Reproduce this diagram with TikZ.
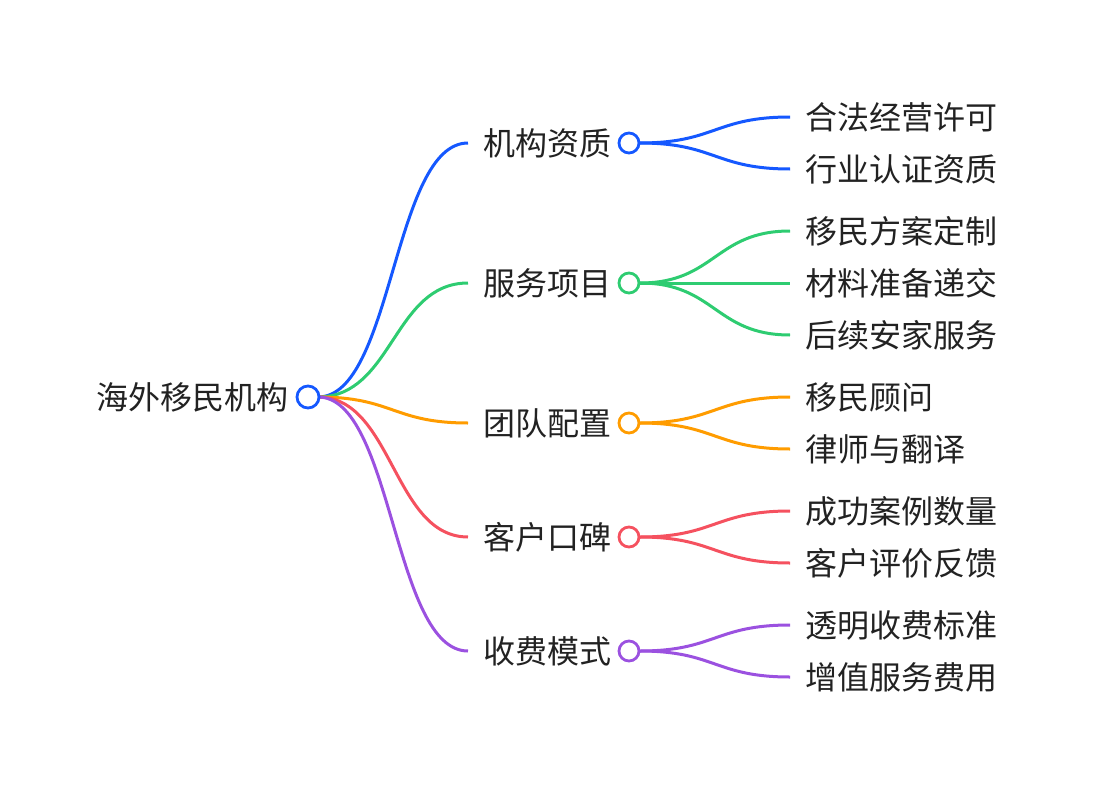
\documentclass[tikz,border=0pt]{standalone}
\usepackage{fontspec}
\newfontfamily\cjk{Noto Sans CJK SC}
\definecolor{cblue}{HTML}{1558FF}
\definecolor{cgreen}{HTML}{2ECC71}
\definecolor{corange}{HTML}{FF9C00}
\definecolor{cred}{HTML}{F5515F}
\definecolor{cpurple}{HTML}{9B51E0}
\definecolor{ctext}{HTML}{222222}
\tikzset{
  dot/.style={circle,draw=#1,line width=2.8pt,fill=white,minimum size=20pt,inner sep=0pt},
  lbl/.style={font=\cjk\fontsize{32}{34}\selectfont,text=ctext,inner sep=0pt},
  edge/.style={draw=#1,line width=3pt},
}
\begin{document}
\begin{tikzpicture}[x=1pt,y=-1pt]
\useasboundingbox (0,0) rectangle (1098,792);
% root
\node[lbl,anchor=east] (roott) at (289,397) {海外移民机构};
\coordinate (rootout) at (318,397);
% branch connectors
\foreach \n/\y/\c in {b1/143/cblue,b2/283/cgreen,b3/423/corange,b4/537/cred,b5/651/cpurple}{
  \coordinate (\n in) at (468,\y);
  \coordinate (\n out) at (640,\y);
  \draw[edge=\c] (rootout) .. controls (393,397) and (393,\y) .. (\n in);
}
% leaves
\foreach \b/\l/\by/\y/\c/\t in {
  b1/l11/143/117/cblue/合法经营许可, b1/l12/143/169/cblue/行业认证资质,
  b2/l21/283/231/cgreen/移民方案定制, b2/l22/283/283/cgreen/材料准备递交, b2/l23/283/335/cgreen/后续安家服务,
  b3/l31/423/397/corange/移民顾问, b3/l32/423/449/corange/律师与翻译,
  b4/l41/537/511/cred/成功案例数量, b4/l42/537/563/cred/客户评价反馈,
  b5/l51/651/625/cpurple/透明收费标准, b5/l52/651/677/cpurple/增值服务费用}{
  \coordinate (\l in) at (790,\y);
  \draw[edge=\c] (\b out) .. controls (715,\by) and (715,\y) .. (\l in);
  \node[lbl,anchor=west] (\l) at (805,\y) {\t};
}
\foreach \n/\y/\c/\t in {b1/143/cblue/机构资质,b2/283/cgreen/服务项目,b3/423/corange/团队配置,b4/537/cred/客户口碑,b5/651/cpurple/收费模式}{
  \draw[edge=\c] (\n out) -- (629,\y);
  \node[dot=\c] (\n) at (629,\y) {};
  \node[lbl,anchor=east] (\n t) at (612,\y) {\t};
}
\node[dot=cblue,minimum size=22pt] (root) at (308,397) {};
\end{tikzpicture}
\end{document}
